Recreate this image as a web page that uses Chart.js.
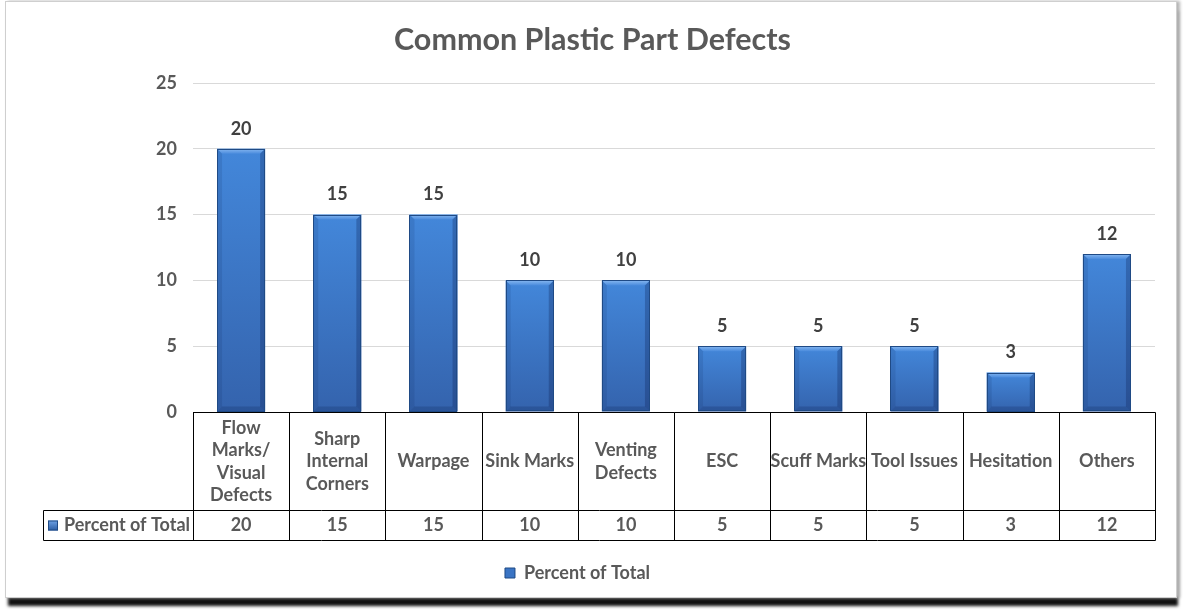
<!DOCTYPE html>
<html>
<head>
<meta charset="utf-8">
<title>Common Plastic Part Defects</title>
<script src="https://cdn.jsdelivr.net/npm/chart.js@4.4.0/dist/chart.umd.min.js"></script>
<style>
    html, body { margin: 0; padding: 0; background: #fff; }
    #card {
        position: absolute; left: 5px; top: 1px; width: 1170px; height: 595px;
        background: #fff; border: 1px solid #cfcfcf;
        box-shadow: 3px 0 3px #b5b5b5, 2px 9px 3px -1px #111;
    }
    #wrap { position: absolute; left: 0; top: 0; width: 1185px; height: 613px; }
</style>
</head>
<body>
<div id="card"></div>
<div id="wrap"><canvas id="defectsPlot" width="1185" height="613"></canvas></div>
<script>
// Chart data
var chartTitle = 'Common Plastic Part Defects';
var categories = [
    ['Flow', 'Marks/', 'Visual', 'Defects'],
    ['Sharp', 'Internal', 'Corners'],
    'Warpage',
    'Sink Marks',
    ['Venting', 'Defects'],
    'ESC',
    'Scuff Marks',
    'Tool Issues',
    'Hesitation',
    'Others'
];
var seriesName = 'Percent of Total';
var percentOfTotal = [20, 15, 15, 10, 10, 5, 5, 5, 3, 12];
var yTicks = [0, 5, 10, 15, 20, 25];

var FONT = 'Lato, "Open Sans", sans-serif';
var TEXT_GRAY = '#595959';
var EDGE_BLUE = '#1f4a85';

// Vertical gradient for each bar, from its top down to the base
function barFill(c) {
    var chart = c.chart;
    var y = chart.scales.y;
    if (!y || !chart.chartArea || c.raw === undefined) return '#3a74c4';
    var top = y.getPixelForValue(c.raw);
    var base = y.getPixelForValue(0);
    var g = chart.ctx.createLinearGradient(0, top, 0, base);
    g.addColorStop(0, '#4387da');
    g.addColorStop(1, '#3463ad');
    return g;
}

function legendKey(ctx, x, y, s) {
    var g = ctx.createLinearGradient(0, y, 0, y + s);
    g.addColorStop(0, '#6fa3e6');
    g.addColorStop(1, '#2c5da3');
    ctx.fillStyle = g;
    ctx.fillRect(x, y, s, s);
    ctx.strokeStyle = EDGE_BLUE;
    ctx.lineWidth = 1;
    ctx.strokeRect(x + 0.5, y + 0.5, s - 1, s - 1);
}

// Title centred on the whole card, not on the padded box
var cardTitle = {
    id: 'cardTitle',
    afterDraw: function(chart) {
        var ctx = chart.ctx;
        ctx.save();
        ctx.font = 'bold 30.5px ' + FONT;
        ctx.fillStyle = TEXT_GRAY;
        ctx.textAlign = 'center';
        ctx.textBaseline = 'middle';
        ctx.fillText(chartTitle, chart.width / 2, 40);
        ctx.restore();
    }
};

// Bevel shading on top of the plain bars, plus the value labels
var barBevel = {
    id: 'barBevel',
    afterDatasetsDraw: function(chart) {
        var ctx = chart.ctx;
        var meta = chart.getDatasetMeta(0);
        ctx.save();
        meta.data.forEach(function(el, i) {
            var l = el.x - el.width / 2, r = el.x + el.width / 2;
            var t = el.y, b = el.base, d = 5;

            var g = ctx.createLinearGradient(0, t, 0, t + d);
            g.addColorStop(0, '#86b7f0');
            g.addColorStop(1, '#4a8bdd');
            ctx.fillStyle = g;
            ctx.beginPath();
            ctx.moveTo(l, t); ctx.lineTo(r, t); ctx.lineTo(r - d, t + d); ctx.lineTo(l + d, t + d);
            ctx.closePath(); ctx.fill();

            ctx.fillStyle = 'rgba(10, 30, 80, 0.28)';
            ctx.beginPath();
            ctx.moveTo(r, t); ctx.lineTo(r, b); ctx.lineTo(r - d, b - d); ctx.lineTo(r - d, t + d);
            ctx.closePath(); ctx.fill();

            ctx.fillStyle = 'rgba(10, 30, 80, 0.12)';
            ctx.beginPath();
            ctx.moveTo(l, t); ctx.lineTo(l + d, t + d); ctx.lineTo(l + d, b - d); ctx.lineTo(l, b);
            ctx.closePath(); ctx.fill();

            ctx.fillStyle = 'rgba(10, 30, 80, 0.22)';
            ctx.beginPath();
            ctx.moveTo(l, b); ctx.lineTo(l + d, b - d); ctx.lineTo(r - d, b - d); ctx.lineTo(r, b);
            ctx.closePath(); ctx.fill();

            ctx.strokeStyle = EDGE_BLUE;
            ctx.lineWidth = 1;
            ctx.strokeRect(Math.round(l) + 0.5, Math.round(t) + 0.5, Math.round(r - l) - 1, Math.round(b - t) - 1);

            ctx.fillStyle = '#404040';
            ctx.font = 'bold 18px ' + FONT;
            ctx.textAlign = 'center';
            ctx.textBaseline = 'middle';
            ctx.fillText(String(percentOfTotal[i]), el.x, t - 20);
        });
        ctx.restore();
    }
};

// Data table under the plot area
var dataTable = {
    id: 'dataTable',
    afterDraw: function(chart) {
        var ctx = chart.ctx;
        var area = chart.chartArea;
        var n = categories.length;
        var colW = (area.right - area.left) / n;
        var top = Math.round(area.bottom) + 0.5;
        var mid = top + 98;
        var bot = mid + 30;
        var keyLeft = 43.5;
        var right = Math.round(area.right) + 0.5;

        ctx.save();
        ctx.strokeStyle = '#000';
        ctx.lineWidth = 1;
        ctx.beginPath();
        ctx.moveTo(area.left, top); ctx.lineTo(right, top);
        ctx.moveTo(keyLeft, mid); ctx.lineTo(right, mid);
        ctx.moveTo(keyLeft, bot); ctx.lineTo(right, bot);
        ctx.moveTo(keyLeft, mid); ctx.lineTo(keyLeft, bot);
        for (var i = 0; i <= n; i++) {
            var xx = Math.round(area.left + i * colW) + 0.5;
            ctx.moveTo(xx, top); ctx.lineTo(xx, bot);
        }
        ctx.stroke();

        ctx.font = 'bold 18px ' + FONT;
        ctx.fillStyle = TEXT_GRAY;
        ctx.textAlign = 'center';
        ctx.textBaseline = 'middle';
        var lineH = 22.5;
        categories.forEach(function(cat, i) {
            var lines = Array.isArray(cat) ? cat : [cat];
            var cx = chart.scales.x.getPixelForValue(i);
            var y0 = (top + mid) / 2 - (lines.length - 1) * lineH / 2;
            lines.forEach(function(txt, k) {
                ctx.fillText(txt, cx, y0 + k * lineH);
            });
            ctx.fillText(String(percentOfTotal[i]), cx, (mid + bot) / 2);
        });

        legendKey(ctx, 48, (mid + bot) / 2 - 5, 10);
        ctx.fillStyle = TEXT_GRAY;
        ctx.textAlign = 'left';
        ctx.fillText(seriesName, 64, (mid + bot) / 2);
        ctx.restore();
    }
};

new Chart(document.getElementById('defectsPlot'), {
    type: 'bar',
    data: {
        labels: categories,
        datasets: [{
            label: seriesName,
            data: percentOfTotal,
            backgroundColor: barFill,
            borderWidth: 0,
            barPercentage: 1,
            categoryPercentage: 0.5
        }]
    },
    options: {
        responsive: false,
        animation: false,
        layout: { padding: { left: 0, right: 30, top: 83, bottom: 21 } },
        scales: {
            x: {
                grid: { display: false },
                border: { display: false },
                ticks: { display: false },
                afterFit: function(scale) { scale.height = 142; }
            },
            y: {
                min: 0,
                max: 25,
                afterBuildTicks: function(scale) {
                    scale.ticks = yTicks.map(function(v) { return { value: v }; });
                },
                afterFit: function(scale) { scale.width = 193; },
                grid: { color: '#d9d9d9', drawTicks: false },
                border: { display: false },
                ticks: {
                    padding: 16,
                    color: TEXT_GRAY,
                    font: { family: FONT, size: 18, weight: 'bold' }
                }
            }
        },
        plugins: {
            title: { display: false },
            legend: {
                position: 'bottom',
                labels: {
                    color: TEXT_GRAY,
                    boxWidth: 10,
                    boxHeight: 10,
                    padding: 10,
                    font: { family: FONT, size: 18, weight: 'bold' },
                    generateLabels: function(chart) {
                        return [{
                            text: seriesName,
                            fillStyle: '#3a74c4',
                            strokeStyle: EDGE_BLUE,
                            lineWidth: 1,
                            fontColor: TEXT_GRAY,
                            datasetIndex: 0
                        }];
                    }
                }
            },
            tooltip: { enabled: false }
        }
    },
    plugins: [cardTitle, barBevel, dataTable]
});
</script>
</body>
</html>
